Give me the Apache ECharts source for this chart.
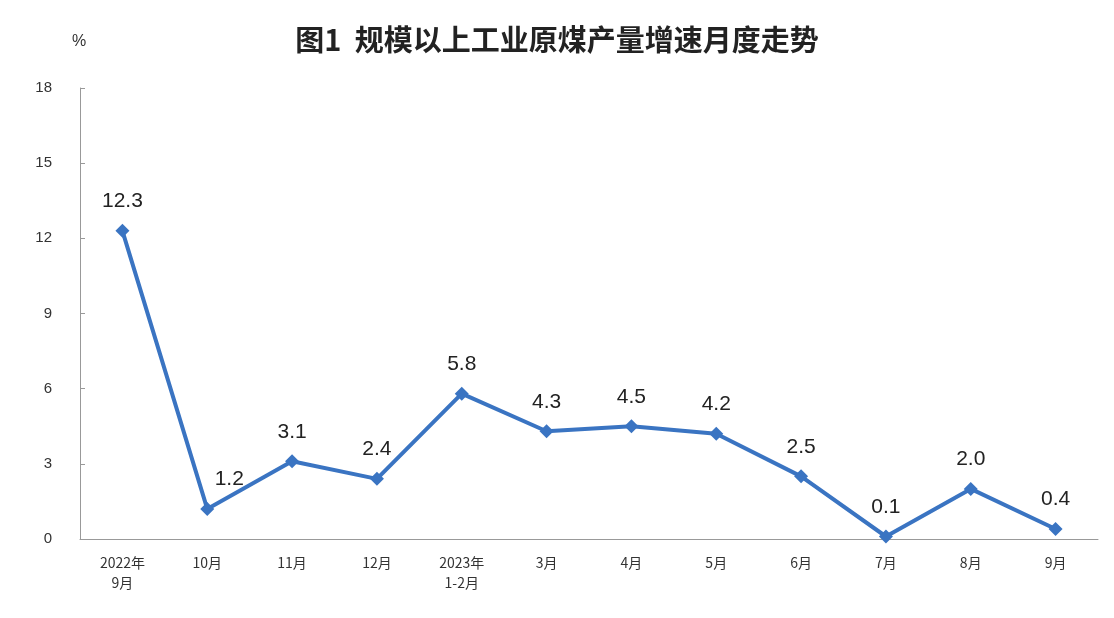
<!DOCTYPE html><html><head><meta charset="utf-8"><script src="https://cdn.jsdelivr.net/npm/echarts@6/dist/echarts.min.js"></script></head><body style="margin:0"><div id="c" style="width:1114px;height:618px"></div><script>
const categories=['2022年\n9月','10月','11月','12月','2023年\n1-2月','3月','4月','5月','6月','7月','8月','9月'];
const values=[12.3,1.2,3.1,2.4,5.8,4.3,4.5,4.2,2.5,0.1,2.0,0.4];
const c=echarts.init(document.getElementById('c'));
c.setOption({
title:{text:'图1  规模以上工业原煤产量增速月度走势',left:'center',top:20,padding:[5,5,5,30],textStyle:{fontFamily:'Noto Sans CJK SC',fontSize:29,fontWeight:'bold',color:'#222'}},
grid:{left:80,right:16,top:88,bottom:79},
xAxis:{type:'category',data:categories,axisLine:{lineStyle:{color:'#999'}},axisTick:{show:false},axisLabel:{color:'#333',fontSize:14,lineHeight:20,margin:14,fontFamily:'Noto Sans CJK SC'}},
yAxis:{type:'value',min:0,max:18,interval:3,name:'%',nameLocation:'end',nameGap:38,nameTextStyle:{fontSize:16,color:'#333',align:'left',padding:[0,0,0,-8]},splitLine:{show:false},axisLine:{show:true,lineStyle:{color:'#999'}},axisTick:{show:true,inside:true,length:5,lineStyle:{color:'#999'}},axisLabel:{color:'#333',fontSize:15,margin:28}},
series:[{type:'line',data:values.map((v,i)=>i===1?{value:v,label:{offset:[22,0]}}:v),symbol:'diamond',symbolSize:14,lineStyle:{color:'#3a74c2',width:4},itemStyle:{color:'#3a74c2'},label:{show:true,position:'top',distance:12,fontSize:21,color:'#222',formatter:p=>p.value.toFixed(1)}}]
});
</script></body></html>
